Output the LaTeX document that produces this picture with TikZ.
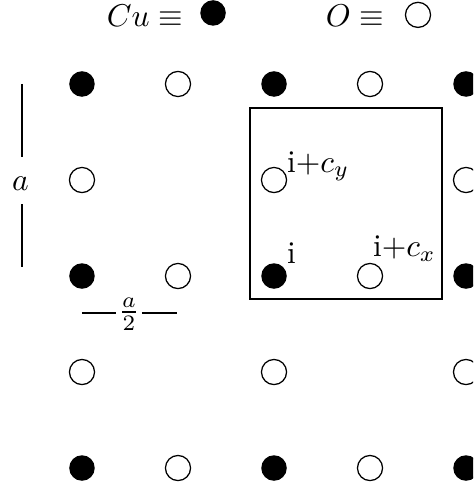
\documentclass[tikz,border=0pt]{standalone}
\usepackage{amsmath, amssymb}
\usepackage{tikz}
\usetikzlibrary{positioning}

\begin{document}
\begin{tikzpicture}[
  x=1.07cm, y=1.07cm,
  cu/.style={circle, fill=black, draw=black, inner sep=0pt, minimum size=0.27cm},
  ox/.style={circle, draw=black, fill=white, inner sep=0pt, minimum size=0.28cm},
  site/.style={anchor=base west, inner sep=0pt}
]

% Frame of the picture
\clip (-2.854,-2.208) rectangle (2.073,2.875);

% Key
\node[cu] (cuKey) at (-0.635,2.74) {};
\node[ox] (oxKey) at (1.5,2.72) {};
\node[anchor=base east, inner sep=0pt] (cuText) at (-0.94,2.604) {$Cu \equiv$};
\node[anchor=base east, inner sep=0pt] (oxText) at (1.153,2.604) {$O \equiv$};

% Row a
\node[cu] (cua1) at (-2,2) {};
\node[ox] (oxa2) at (-1,2) {};
\node[cu] (cua3) at (0,2) {};
\node[ox] (oxa4) at (1,2) {};
\node[cu] (cua5) at (2,2) {};

% Row b
\node[ox] (oxb1) at (-2,1) {};
\node[ox] (oxb3) at (0,1) {};
\node[ox] (oxb5) at (2,1) {};

% Row c
\node[cu] (cuc1) at (-2,0) {};
\node[ox] (oxc2) at (-1,0) {};
\node[cu] (cuc3) at (0,0) {};
\node[ox] (oxc4) at (1,0) {};
\node[cu] (cuc5) at (2,0) {};

% Row d
\node[ox] (oxd1) at (-2,-1) {};
\node[ox] (oxd3) at (0,-1) {};
\node[ox] (oxd5) at (2,-1) {};

% Row e
\node[cu] (cue1) at (-2,-2) {};
\node[ox] (oxe2) at (-1,-2) {};
\node[cu] (cue3) at (0,-2) {};
\node[ox] (oxe4) at (1,-2) {};
\node[cu] (cue5) at (2,-2) {};

% Unit cell
\coordinate (cellSW) at (-0.25,-0.24);
\coordinate (cellNE) at (1.75,1.75);
\draw (cellSW) rectangle (cellNE);

% Site labels
\node[site] (iLabel) at ([shift={(0.13,0.135)}]cuc3.center) {i};
\node[site] (iyLabel) at ([shift={(0.13,0.083)}]oxb3.center) {i$+c_y$};
\node[site] (ixLabel) at ([shift={(0.025,0.2)}]oxc4.center) {i$+c_x$};

% Lattice constant
\node (aLabel) at (-2.64,0.965) {$a$};
\coordinate (aTop) at (-2.625,2);
\coordinate (aUp) at (-2.625,1.24);
\coordinate (aLow) at (-2.625,0.75);
\coordinate (aBot) at (-2.625,0.09);
\draw (aTop) -- (aUp);
\draw (aLow) -- (aBot);

% Half lattice constant
\node (halfLabel) at (-1.51,-0.40) {$\frac{a}{2}$};
\coordinate (hLeft) at (-2.0,-0.385);
\coordinate (hMidL) at (-1.646,-0.385);
\coordinate (hMidR) at (-1.375,-0.385);
\coordinate (hRight) at (-1.01,-0.385);
\draw (hLeft) -- (hMidL);
\draw (hMidR) -- (hRight);

\end{tikzpicture}
\end{document}
